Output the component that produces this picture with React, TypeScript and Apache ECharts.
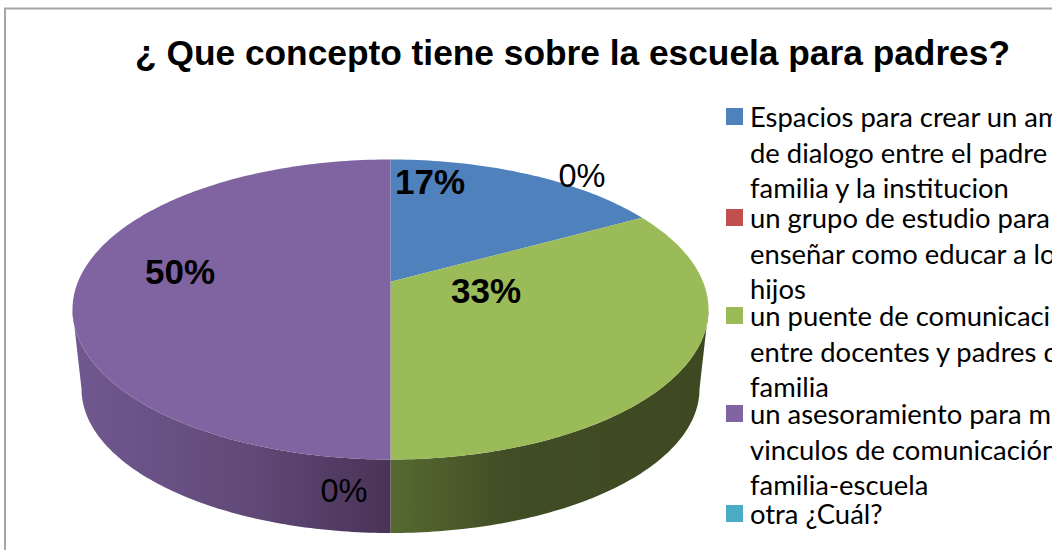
import React, { useEffect, useRef } from "react";
import * as echarts from "echarts";

const titleText = "¿ Que concepto tiene sobre la escuela para padres?";
const names = [
  "Espacios para crear un am\nde dialogo entre el padre\nfamilia y la institucion",
  "un grupo de estudio para\nenseñar como educar a lo\nhijos",
  "un puente de comunicaci\nentre docentes y padres d\nfamilia",
  "un asesoramiento para m\nvinculos de comunicación\nfamilia-escuela",
  "otra ¿Cuál?",
];
const values = [17, 0, 33, 50, 0];
const colors = ["#4f81bd", "#c0504d", "#9bbb59", "#8064a2", "#4bacc6"];

// layout
const TOP = { cx: 390.5, cy: 309.5, rx: 318, ry: 150 };
const BOTTOM = { cx: 390.5, cy: 389, rx: 309, ry: 144 };
const PERSPECTIVE = 0.83;
const labelPos = [
  [430, 181, true],
  [582, 176, false],
  [486, 290, true],
  [180, 271, true],
  [344, 491, false],
];
const legendCenters = [116.5, 217.5, 315.5, 413.5, 513.5];
const LINE = 35.5;

const total = values.reduce((a, b) => a + b, 0);

function project(theta: number) {
  // true pie angle (deg, clockwise from the back) -> ellipse parameter (deg)
  if (theta <= 0) return 0;
  if (theta >= 360) return 360;
  if (theta === 180) return 180;
  if (theta > 180) return 360 - project(360 - theta);
  return (2 * Math.atan(PERSPECTIVE * Math.tan((theta * Math.PI) / 360)) * 180) / Math.PI;
}
function pt(e: typeof TOP, t: number) {
  const r = (t * Math.PI) / 180;
  return [e.cx + e.rx * Math.sin(r), e.cy - e.ry * Math.cos(r)];
}
function arc(e: typeof TOP, a: number, b: number) {
  const out: number[][] = [];
  const n = Math.max(2, Math.ceil(Math.abs(b - a)));
  for (let i = 0; i <= n; i++) out.push(pt(e, a + ((b - a) * i) / n));
  return out;
}
const apexY = TOP.cy - TOP.ry * Math.cos((project(90) * Math.PI) / 180);

function wallFill(index: number) {
  if (index === 2) {
    return new echarts.graphic.LinearGradient(390, 0, 700, 0, [
      { offset: 0, color: "#566a30" },
      { offset: 0.38, color: "#414d25" },
      { offset: 1, color: "#3e4922" },
    ], true);
  }
  return new echarts.graphic.LinearGradient(75, 0, 390, 0, [
    { offset: 0, color: "#705890" },
    { offset: 0.55, color: "#614a78" },
    { offset: 1, color: "#493357" },
  ], true);
}

function sliceRenderer(index: number) {
  return () => {
    const before = values.slice(0, index).reduce((a, b) => a + b, 0);
    const start = project((before / total) * 360);
    const end = project(((before + values[index]) / total) * 360);
    const children: any[] = [];
    if (values[index] > 0) {
      const ws = Math.max(start, 90);
      const we = Math.min(end, 270);
      if (we > ws) {
        children.push({
          type: "polygon",
          shape: { points: [...arc(TOP, ws, we), ...arc(BOTTOM, we, ws)] },
          style: { fill: wallFill(index) },
        });
      }
      children.push({
        type: "polygon",
        shape: { points: [[TOP.cx, apexY], ...arc(TOP, start, end)] },
        style: { fill: colors[index] },
      });
    }
    const [lx, ly, bold] = labelPos[index] as [number, number, boolean];
    children.push({
      type: "text",
      z2: 100,
      style: {
        x: lx,
        y: ly,
        text: `${values[index]}%`,
        align: "center",
        verticalAlign: "middle",
        fill: "#000",
        font: `${bold ? "bold 35px" : "32.5px"} "Liberation Sans"`,
      },
    });
    return { type: "group", children };
  };
}

export default function App() {
  const ref = useRef<HTMLDivElement>(null);
  useEffect(() => {
    const chart = echarts.init(ref.current!, undefined, { renderer: "svg" });
    chart.setOption({
      animation: false,
      backgroundColor: "#fff",
      title: {
        text: titleText,
        left: 567.5,
        top: 30,
        textAlign: "center",
        textStyle: { fontFamily: "Liberation Sans", fontWeight: "bold", fontSize: 35.3, color: "#000" },
      },
      legend: names.map((name, i) => {
        const lines = name.split("\n").length;
        // blank lines above the text put the first line level with the swatch
        const total = 2 * lines - 1;
        return {
          left: 726,
          top: legendCenters[i] - (total * LINE) / 2,
          padding: 0,
          orient: "vertical",
          icon: "rect",
          itemWidth: 17,
          itemHeight: 17,
          selectedMode: false,
          data: [name],
          formatter: (n: string) => "\n".repeat(lines - 1) + n,
          textStyle: {
            fontFamily: "Lato",
            fontSize: 27.4,
            lineHeight: LINE,
            color: "#000",
            padding: [0, 0, 0, 2],
          },
        };
      }),
      graphic: [
        {
          type: "polyline",
          z: 50,
          shape: { points: [[5, 550], [5, 8.5], [1052, 8.5]] },
          style: { stroke: "#a6a6a6", lineWidth: 2, fill: "none" },
        },
        {
          type: "rect",
          z: 60,
          shape: { x: 1052, y: 0, width: 3, height: 550 },
          style: { fill: "#fff" },
        },
      ],
      series: names.map((name, i) => ({
        type: "custom",
        name,
        coordinateSystem: "none",
        itemStyle: { color: colors[i] },
        renderItem: sliceRenderer(i),
        data: [values[i]],
        silent: true,
      })),
    });
    return () => chart.dispose();
  }, []);
  return (
    <div
      ref={ref}
      style={{ position: "absolute", left: 0, top: 0, width: 1055, height: 550 }}
    />
  );
}
